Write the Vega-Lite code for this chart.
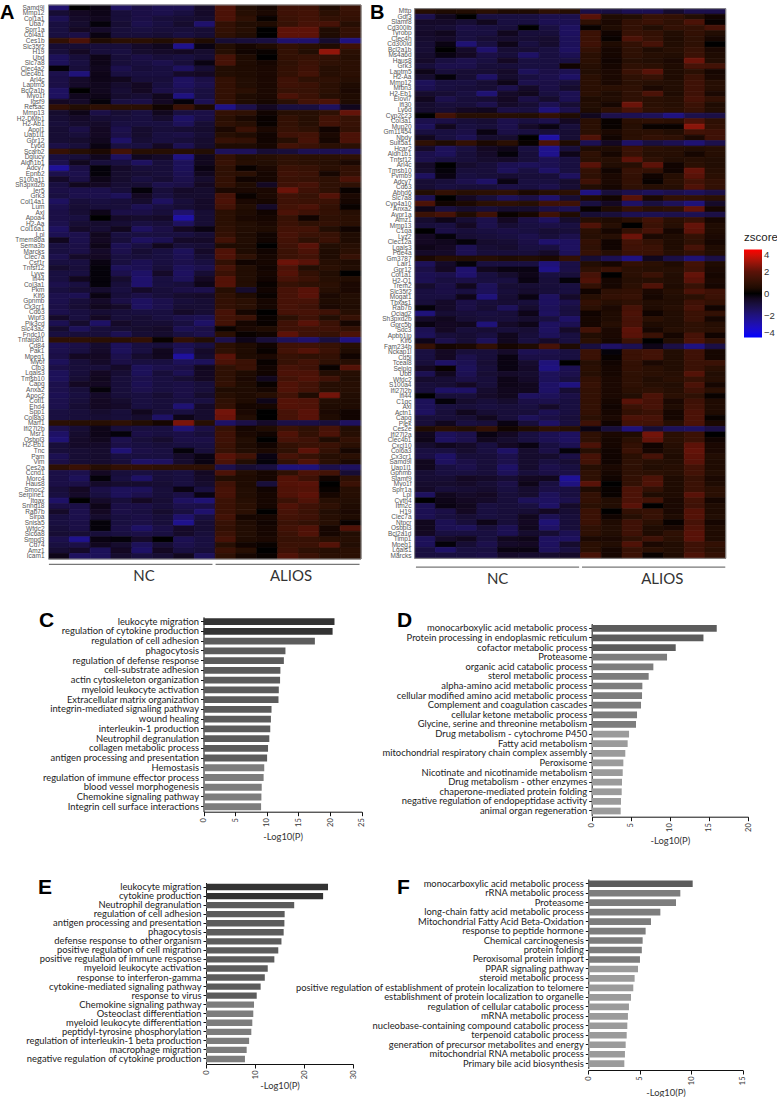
{"$schema":"https://vega.github.io/schema/vega-lite/v6.json","padding":0,"background":"white","bounds":"flush","spacing":0,"columns":2,"config":{"view":{"stroke":null},"font":"Lato"},"concat":[
{"width":370,"height":600,"title":{"text":"A","anchor":"start","frame":"group","offset":0,"baseline":"alphabetic","dx":0,"dy":39,"font":"Liberation Sans","fontSize":20,"fontWeight":"bold","color":"#000"},"resolve":{"scale":{"x":"independent","y":"independent"}},"layer":[
{"data":{"values":[
{"g":"Samd9l","z":[-1.7,0,-0.2,-1.5,-1.1,-1.3,-1.3,-0.6,1.7,0.6,0.3,1.3,1.3,0.5,1.2]},
{"g":"Mmp12","z":[-0.8,-0.5,-0.3,-0.9,-1.1,-1.2,-1,-0.6,1.6,0.7,0.4,1.3,1.4,0.8,1.1]},
{"g":"Col1a1","z":[-1.3,-0.6,-0.4,-0.9,-1.1,-0.9,-0.8,-0.7,1.6,0.9,0.1,1.2,1.4,1,1]},
{"g":"Uba7","z":[-1,-0.7,-0.1,-0.8,-1.2,-1,-0.7,-1.7,1,0.6,0.5,1.1,1.5,1.5,0.7]},
{"g":"Sprr1a","z":[-1,-0.5,-0.6,-0.9,-1,-0.9,-0.9,-0.8,1,0.7,0,2,2,0.5,1]},
{"g":"Col4a1","z":[-1,-1.1,-0.2,-0.9,-0.9,-0.8,-1,-0.8,0.9,0.6,0,2,2,0.5,1]},
{"g":"Ces1b","z":[1,1.6,0.5,0.8,0.8,0.6,0.9,0.5,-0.8,-0.9,-1,-1.7,-1.7,-0.7,-2]},
{"g":"Slc35f2","z":[-0.8,-0.8,-0.9,-0.9,-0.6,-0.4,-2.2,-0.2,0.6,0.3,0.5,1,0.8,0.5,1.3]},
{"g":"H19","z":[-0.9,-0.5,-0.9,-1,-0.7,-0.6,-0.5,-0.7,0.7,0.2,0.1,1,0.6,2.7,0.8]},
{"g":"Ubd","z":[-1.4,-0.9,-0.3,-0.9,-1.1,-0.9,-1,-0.8,1.5,0.5,0,1,1.1,1,0.7]},
{"g":"Slc7a8","z":[-1.4,-1,-0.3,-0.9,-1,-1.2,-0.9,-0.2,1.5,0.5,0.3,0.9,1.2,0.9,0.8]},
{"g":"Clec4a2","z":[-0.1,-0.9,-0.4,-1.2,-0.9,-1,-1.5,-0.8,0.6,0.5,0.4,1,1.3,0.7,0.8]},
{"g":"Clec4b1","z":[-1.2,-1.9,-0.3,-1,-1,-1,-0.6,-0.5,0.6,0.5,0.4,1,1.4,0.7,0.8]},
{"g":"Arl4c","z":[-1.1,-0.6,-0.3,-0.4,-0.9,-0.9,-1.5,-1.1,1,0.6,0.4,1.3,0.9,0.9,0.7]},
{"g":"Laptm5","z":[-1.1,-0.6,-0.4,-0.7,-0.5,-1,-1.5,-1.2,1,0.6,0.4,1.3,1.2,0.8,0.5]},
{"g":"Bcl2a1b","z":[-1.5,0,-0.4,-0.8,-0.5,-1.1,-1.3,-1,1,0.8,0.4,1.1,1.1,0.8,0.4]},
{"g":"Myo1f","z":[-1.5,-0.4,-0.3,-0.7,-0.8,-0.4,-2,-1,1,0.5,0.4,1.6,1.2,0.7,0.5]},
{"g":"Igsf9","z":[-0.5,-0.6,-0.1,-1,-1.1,-0.5,-0.1,-1.3,1,0.5,0.3,0.8,1.4,1.6,0.5]},
{"g":"Refsac","z":[1,0.6,0.9,0.8,0.8,0.2,1.2,0.4,-2.1,-1.2,-0.5,-1,-1,-1.5,-0.4]},
{"g":"Mmp13","z":[-0.7,-0.3,-1.1,-0.8,-1,-0.4,-1,-1.1,1,0.9,0.2,0.7,0.7,0.9,2.1]},
{"g":"H2-DMb1","z":[-0.8,-0.6,-0.8,-0.9,-1,-0.7,-1.6,-1.1,0.8,0.4,0.1,1,0.7,1.4,1.1]},
{"g":"H2-Ab1","z":[-0.9,-0.7,-0.6,-1,-1,-1,-1.4,-0.8,0.9,0.7,0.1,1,0.7,1.4,1.1]},
{"g":"Apol1","z":[-0.8,-1.1,-0.5,-1.2,-0.7,-0.9,-0.8,-0.7,0.4,1.2,0.4,1.1,0.9,0.2,1]},
{"g":"Uap1l1","z":[-0.8,-0.9,-0.5,-1.1,-0.7,-1,-1.1,-0.8,0.7,0.5,0.2,1.3,1.4,0.4,1.6]},
{"g":"Gpr12","z":[-0.8,-0.7,-0.4,-1.6,-0.8,-1,-0.9,-0.7,1.1,1,0.2,0.7,1.5,0.3,1.6]},
{"g":"Ly6d","z":[-1.1,-0.9,-0.2,-1,-1,-0.5,-1.3,-0.7,0.5,0.5,0.3,1.4,1.2,0.8,0.8]},
{"g":"Scarb2","z":[1.1,0.7,0.4,1.4,0.7,0.7,0.7,0.6,-1.4,-1.4,-0.8,-0.9,-1.3,-1.3,-1.4]},
{"g":"Dglucy","z":[-1,-0.9,-0.4,-1.5,-0.4,-0.6,-2,-0.4,1,0.6,0.7,0.9,0.8,0.8,0.9]},
{"g":"Aldh1b1","z":[-1.2,-0.4,-0.9,-1,-1.5,-0.9,-1.4,-0.4,1.1,0.7,0.6,0.9,0.8,0.7,0.4]},
{"g":"Adcy7","z":[-2.4,-1.1,-0.1,-0.6,-0.9,-0.9,-1.4,-0.2,0.9,0.1,0.4,1.2,1.1,0.8,1]},
{"g":"Epnb2","z":[-1.2,-1.2,-0.1,-0.7,-0.8,-0.9,-1.3,-0.4,0.9,0.8,0.3,1.3,1.2,0.3,1]},
{"g":"S100a11","z":[-0.6,-1.1,-0.3,-0.7,-1,-0.8,-1.2,-0.7,1,0.2,0.3,1.2,1.1,0.9,1.6]},
{"g":"Sh3pxd2b","z":[-1,-0.4,-0.5,-0.8,-0.8,-1.2,-1.1,-0.5,1,0.5,-0.5,1.3,1.5,0.9,0.9]},
{"g":"Ier5","z":[-1.1,-1.2,-1.2,-0.9,-0.1,-0.9,-0.6,-0.7,0.4,0.4,0.4,2.2,1.3,0.9,0.1]},
{"g":"Grk3","z":[-1,-1.2,-1.2,-1.4,-0.5,-1,-0.7,-0.7,1.5,0.1,0.4,1.3,1.1,1.8,0.4]},
{"g":"Col14a1","z":[-1.5,-0.9,-1,-0.9,-0.7,-1.5,-0.9,-0.6,1.6,0.4,0.3,1.3,1.2,1.2,0.3]},
{"g":"Lum","z":[-1.2,-0.8,-0.9,-0.9,-1.3,-1,-0.8,-0.6,1.4,0.6,-0.6,1.4,1.6,1,0.1]},
{"g":"Axl","z":[-1.1,-0.8,-0.3,-1.1,-1.1,-0.9,-1.7,-0.8,0.8,0.5,0.2,1.6,1.3,1,0.7]},
{"g":"Apoa4","z":[-1.1,-1,0,-0.6,-0.7,-0.6,-2.6,-0.8,0.8,0.4,0.3,1.1,0.2,0.9,0.8]},
{"g":"H2-Aa","z":[-1.2,-0.8,-0.7,-0.8,-1,-0.9,-1.5,-0.8,0.8,0.6,0.4,1.2,0.9,1,0.8]},
{"g":"Col16a1","z":[-1.5,-0.6,-0.8,-0.4,-1.5,-1.1,-0.5,-0.2,0.9,0.6,0.5,1.4,1.4,0.6,0.2]},
{"g":"Lpl","z":[-1.3,-1.2,-0.4,-1,-1,-1,-1,-0.8,1,0.5,0.2,1.5,1.2,1.1,0.5]},
{"g":"Tmem86a","z":[-0.4,-1.2,-0.5,-0.9,-1.5,-1.3,-0.6,-0.6,1.4,0.6,0.2,1.4,0.9,1.2,0.5]},
{"g":"Sema3b","z":[-1,-1.1,-0.3,-1.3,-1,-0.4,-0.9,-0.8,0.5,0.5,0,1.3,1.9,0.6,0.7]},
{"g":"Marcks","z":[-1,-1.1,-0.6,-1.2,-0.8,-1,-1.4,-0.6,1.7,0.5,0.2,1.2,1.6,0.5,0.8]},
{"g":"Clec7a","z":[-1.2,-0.6,-0.5,-1,-0.9,-1,-1.3,-0.8,1.7,0.9,0.3,1.2,1.4,0.5,1.1]},
{"g":"Csf1r","z":[-1,-1,-0.2,-1,-1.3,-1,-1.2,-1,1,0.2,0.3,2.2,1.9,0.7,0.5]},
{"g":"Tnfsf12","z":[-0.7,-0.9,-0.1,-1.4,-1.3,-0.9,-1.4,-1.2,1.5,0.6,0.2,1.6,0.6,0.8,0.6]},
{"g":"Lyve","z":[-1,-1,-0.1,-1.2,-1.6,-0.6,-1.5,-0.8,1.2,0.6,0.3,1.8,1,0.6,0]},
{"g":"Ifi44","z":[-1,-0.4,-0.1,-0.7,-1.7,-1,-1.4,-0.5,1.8,0.6,0.2,1.5,1.2,0.7,0.6]},
{"g":"Col3a1","z":[-1.2,-1,-0.1,-0.9,-1.7,-1,-0.9,-0.3,1.8,0.6,0.1,1.1,0.9,0.8,0.4]},
{"g":"Pkm","z":[-1,-0.8,-0.7,-1,-0.6,-0.9,-1.1,-1.2,0.7,-0.7,0.2,1.5,1.9,0.7,0.4]},
{"g":"Klf6","z":[-1.2,-1.3,-0.2,-0.9,-1.1,-0.9,-0.7,-0.6,0.9,0.5,0.1,1.5,1.9,0.4,0.6]},
{"g":"Gpnmb","z":[-1.2,-0.9,-0.6,-1.1,-1.5,-1.2,-0.9,-0.8,1,0.8,0.3,1.5,1.5,0.5,0.6]},
{"g":"Cx3cr1","z":[-1.1,-0.8,-0.4,-0.6,-1.5,-1.2,-0.8,-0.8,1,0.8,0.3,1.5,1.3,0.4,0.5]},
{"g":"Cd63","z":[-1.2,-1,-0.8,-0.9,-1,-1,-0.6,-0.8,1.5,0.3,0,1.5,1.5,1.3,0.7]},
{"g":"Wipf3","z":[-0.6,-1,-0.5,-0.9,-0.8,-1,-1.2,-1.3,1.4,1.2,0.1,0.8,1.3,0.6,1.1]},
{"g":"Pik3cd","z":[-1.3,-0.7,-1.6,-0.6,-0.8,-0.8,-1,-1.6,1.4,0.3,0.1,1.3,1.9,1.2,0.3]},
{"g":"Slc43a2","z":[-0.7,-1.4,-0.9,-0.8,-0.7,-0.6,-1.3,-1.1,0.1,0.4,0.5,1.3,1.3,1.3,1]},
{"g":"Fndc10","z":[-1,-0.9,-0.9,-1.3,-0.8,-0.7,-1,-1.2,0.8,0.1,0.2,2,1.3,1.1,1.6]},
{"g":"Tnfaip8l1","z":[0.9,0.9,0.8,0.8,1,0.1,1,0.6,-1.2,-0.3,-0.9,-1.4,-1.7,-1,-2]},
{"g":"Cd84","z":[-1.3,-1.1,-0.7,-1.4,-1,-0.9,-1.3,-1,0.8,0.5,0.2,1.3,1.3,1.1,0.7]},
{"g":"Pak1","z":[-1.2,-1,-0.6,-1.4,-1,-0.4,-1.4,-0.6,0.9,0.5,0.1,1.4,1.8,1.2,0.5]},
{"g":"Mpeg1","z":[-1.1,-0.5,-0.5,-1.2,-0.7,-0.4,-2.5,-0.7,1.9,0.5,0.4,1.1,0.9,1,0.2]},
{"g":"Myof","z":[-1.4,-0.9,-0.6,-1.1,-1,-1,-1.4,-1.4,1.6,1.2,0.1,1.1,1.4,0.9,0.7]},
{"g":"Clb3","z":[-1.1,-0.9,-0.9,-0.6,-1.4,-1.2,-1.1,-0.4,0.9,1.2,0.2,1.5,1.3,0.1,1.8]},
{"g":"Lgals3","z":[-1.4,-0.9,-0.5,-0.8,-1.4,-0.9,-1.3,-0.5,0.9,0.5,0.2,1.6,1.6,0.6,0.7]},
{"g":"Tmsb10","z":[-1.4,-0.8,-0.4,-0.9,-1.2,-1,-0.8,-0.5,0.9,0.4,-0.4,1.4,1.7,1.3,0.6]},
{"g":"Capg","z":[-1.2,-0.5,-0.5,-0.9,-1.3,-1,-1.1,-0.9,1,0.5,0.1,1.7,1.4,0.7,0.7]},
{"g":"Anxa2","z":[-1.2,-0.9,-0.1,-0.9,-1.2,-1,-1.1,-0.9,0.5,0.5,0.3,1.7,1.4,0.7,0.7]},
{"g":"Apoc2","z":[-1.3,-1,-0.6,-0.9,-1,-0.8,-1.1,-0.7,0.7,0.5,0.7,1.4,0.5,2.3,0.6]},
{"g":"Cotl1","z":[-1.2,-0.9,-0.5,-0.7,-1,-0.9,-1,-1,0.9,0.5,-0.3,1.8,1.7,0.6,0.5]},
{"g":"Ehd4","z":[-1.2,-0.8,-0.5,-0.6,-1,-0.9,-1.8,-0.6,1,0.3,0.3,1.8,1.7,0.5,0.5]},
{"g":"Spp1","z":[-1,-0.9,-0.7,-0.9,-0.4,-0.9,-1,-0.7,2.3,0.4,0,1.5,1.9,0.4,0.2]},
{"g":"Col8a3","z":[-1,-0.9,-0.8,-0.9,-0.7,-1.6,-0.3,-0.7,2.2,0.6,0,1.5,1.9,0.5,0.2]},
{"g":"Marf1","z":[0.8,0.7,0.7,0.9,0.6,0.3,2.4,0.7,-1.6,-1.1,-0.6,-1.1,-1.1,-0.9,-1.5]},
{"g":"Ifi27l2b","z":[-1.2,-0.8,-0.3,-0.9,-1,-1,-1.8,-1.1,1.1,0.3,0.5,1.2,0.9,1.5,0.6]},
{"g":"Msr1","z":[-1.6,-0.7,-0.3,-0.1,-1.1,-1,-1.1,-0.9,1.3,0.4,0.2,1.7,1,1.6,0.7]},
{"g":"Osbpl3","z":[-1.8,-0.6,-0.4,-1.2,-0.9,-0.7,-1.1,-1.1,1.3,0.6,0,1.5,1.3,0.5,1]},
{"g":"H2-Eb1","z":[-0.9,-0.6,-0.6,-1.1,-1,-0.9,-1,-1,1.2,0.5,0.2,1,1.2,1.2,0.8]},
{"g":"Tnc","z":[-0.9,-0.8,-0.7,-1.8,-1.1,-1,-0.1,-0.9,1.1,0.6,0.4,0.9,2,1,0.3]},
{"g":"Pam","z":[-1.3,-0.8,-0.7,-1,-1,-1,-0.6,-0.2,1.9,1.4,-0.2,1.5,1.1,0.7,0.8]},
{"g":"Vim","z":[-1.1,-0.8,-0.7,-0.9,-1.6,-1.5,-0.7,-0.2,1.6,0.6,-0.1,1,1.7,0.8,0.4]},
{"g":"Ces2a","z":[0.9,1.2,0.7,1,1,0.9,0.9,0.9,-1.2,-0.8,-1,-1.9,-1.9,-1.2,-1.5]},
{"g":"Ccnd1","z":[-1.1,-1.2,-0.5,-0.9,-1,-0.9,-1,-0.5,1.6,0.6,0.3,0.9,1.6,1.4,-0.8]},
{"g":"Morc4","z":[-1.1,-1.4,-0.1,-1,-1.6,-0.9,-1,-0.6,0.6,0.5,0.3,1.8,1.3,0.2,0.9]},
{"g":"Haus8","z":[-1.1,-1.1,-0.6,-0.7,-0.7,-0.8,-1,-0.7,1.3,0.5,-0.9,1.8,1.9,0,1.2]},
{"g":"Smoc2","z":[-0.9,-0.5,-1.1,-1.4,-1.4,-0.9,-0.2,-1,1.5,0.6,0.2,1.7,1.8,0.1,0.7]},
{"g":"Serpine1","z":[-1,-0.6,-1,-1.4,-1.2,-0.9,-1.1,-0.2,1.5,0.6,0.3,1.7,2,0.3,0.7]},
{"g":"Itgax","z":[-1.6,0,-0.6,-0.9,-0.5,-0.8,-1.5,-1.8,1.2,0.7,0.3,1.2,1.7,0.7,0.6]},
{"g":"Snhg18","z":[-1.1,-1.1,-0.3,-1.1,-1.1,-0.9,-1.2,-1.1,1.2,0.8,0.3,1.7,1.3,0.9,0.5]},
{"g":"Rab7b","z":[-0.6,-1.2,-0.5,-1.1,-1,-0.7,-1,-1.7,1.2,0.8,0,1.5,1.2,0.6,0.4]},
{"g":"Sirpa","z":[-1,-1.2,-0.7,-1,-1.1,-0.9,-1.7,-1,1.4,0.3,0.3,1.4,1.3,0.7,0.5]},
{"g":"Snisa5","z":[-1,-1.1,-0.1,-1,-1.1,-0.9,-2.2,-0.8,1.1,0.5,0.2,1.2,1,0.7,0.1]},
{"g":"Wfdc2","z":[-0.9,-1.1,-0.1,-1.1,-1.6,-1.1,-0.6,-0.8,1,0.6,0.3,1.4,1.7,0.3,1.7]},
{"g":"Slc6a8","z":[-0.8,-0.8,-0.9,-1,-1.1,-1,-0.6,-0.9,1.2,0.6,0.3,1.2,1.7,0.3,0.6]},
{"g":"Smpd3","z":[-1.2,-2.2,-0.2,-0.1,-0.6,0,-1.3,-1,1.5,0.5,0.4,1.1,1.1,0.8,0.7]},
{"g":"Cd74","z":[-1,-1.1,-0.4,-0.7,-1.4,-0.8,-1.2,-1,0.7,0.2,0.1,1.2,1.2,1.8,0.6]},
{"g":"Amz1","z":[-0.8,-0.6,-1.4,-0.5,-1.6,-0.5,-1,-0.9,1.2,0.7,0,1.3,0.9,0.7,0.8]},
{"g":"Icam1","z":[-0.3,-1.5,-1.4,-0.7,-1,-0.8,-0.4,-1.4,0.9,0.3,0.1,1.7,1.2,0.8,0.8]}
]},"transform":[{"flatten":["z"],"as":["v"]},{"window":[{"op":"row_number","as":"col"}],"groupby":["g"]}],"mark":{"type":"rect","strokeWidth":0.7},"encoding":{"x":{"field":"col","type":"ordinal","axis":null,"scale":{"range":[48.5,361],"paddingInner":0,"paddingOuter":0}},"y":{"field":"g","type":"nominal","sort":null,"title":null,"scale":{"range":[5,559],"paddingInner":0,"paddingOuter":0},"axis":{"domain":false,"ticks":false,"labelFont":"Liberation Sans","labelFontSize":6.5,"labelColor":"#555","labelPadding":-44,"labelOverlap":false,"labelBound":false,"labelLimit":100}},"color":{"field":"v","type":"quantitative","scale":{"domain":[-4,-2,0,2,4],"range":["#0000ff","#1f1280","#000000","#5c1208","#ff0000"],"interpolate":"lab"},"legend":null},"stroke":{"field":"v","type":"quantitative","scale":{"domain":[-4,-2,0,2,4],"range":["#0000ff","#1f1280","#000000","#5c1208","#ff0000"],"interpolate":"lab"},"legend":null}}},
{"data":{"values":[{"start":0,"end":15,"top":0,"bottom":1}]},"mark":{"type":"rect","fill":null,"stroke":"#8a8a8a","strokeWidth":1},"encoding":{"x":{"field":"start","type":"quantitative","axis":null,"scale":{"domain":[0,15],"range":[48.5,361],"nice":false,"zero":false}},"x2":{"field":"end"},"y":{"field":"top","type":"quantitative","axis":null,"scale":{"domain":[0,1],"range":[5,559],"nice":false,"zero":false}},"y2":{"field":"bottom"}}},
{"data":{"values":[{"group":"NC","start":0.02,"end":7.87,"line":1.0096},{"group":"ALIOS","start":8.02,"end":14.93,"line":1.0096}]},"mark":{"type":"rule","stroke":"#777","strokeWidth":1.3},"encoding":{"x":{"field":"start","type":"quantitative","axis":null,"scale":{"domain":[0,15],"range":[48.5,361],"nice":false,"zero":false}},"x2":{"field":"end"},"y":{"field":"line","type":"quantitative","axis":null,"scale":{"domain":[0,1],"range":[5,559],"nice":false,"zero":false}}}},
{"data":{"values":[{"group":"NC","mid":4.58,"pos":1.0307},{"group":"ALIOS","mid":11.64,"pos":1.0307}]},"mark":{"type":"text","font":"Lato","fontSize":15,"color":"#333","align":"center","baseline":"middle"},"encoding":{"text":{"field":"group"},"x":{"field":"mid","type":"quantitative","axis":null,"scale":{"domain":[0,15],"range":[48.5,361],"nice":false,"zero":false}},"y":{"field":"pos","type":"quantitative","axis":null,"scale":{"domain":[0,1],"range":[5,559],"nice":false,"zero":false}}}}
]},
{"width":407,"height":600,"title":{"text":"B","anchor":"start","frame":"group","offset":0,"baseline":"alphabetic","dx":0,"dy":39,"font":"Liberation Sans","fontSize":20,"fontWeight":"bold","color":"#000"},"resolve":{"scale":{"x":"independent","y":"independent"}},"layer":[
{"data":{"values":[
{"g":"Mttp","z":[0.7,0.5,0.6,0.8,0.5,0.5,0.9,0.7,-1.1,-1,-1.3,-1.3,-0.7,-1.2,-1.2]},
{"g":"Gdf3","z":[-1.2,-0.4,0,-1,-1,-1,-1.2,-1.2,1.9,0.5,0.6,1.1,1,0.6,0.2]},
{"g":"Slamf8","z":[-0.6,-0.6,-0.8,-0.4,-1,-1,-1.3,-1.3,0.9,0.4,1,1.2,0.9,1.6,0.1]},
{"g":"Cd300lb","z":[-0.7,-0.8,-1.1,-1,-0.9,0,-1,-1.5,0.1,0.5,1,0.6,1,1,1.5]},
{"g":"Tyrobp","z":[-0.6,-0.4,-1,-1,-0.4,-0.9,-0.9,-1.5,1.2,0.2,1.1,1,0.6,1,0.6]},
{"g":"Clec4n","z":[-0.7,-0.6,-1,-0.8,-0.7,-0.8,-0.7,-1.4,1.2,0.1,1.6,1.1,0.5,0.9,0.3]},
{"g":"Cd300ld","z":[-0.8,-0.2,-1.8,-1,-0.3,-1,-0.7,-1.4,1.3,0.5,1,1.5,0.6,0.9,0]},
{"g":"Bcl2a1b","z":[-0.8,0,-0.6,-1.7,-0.8,-0.8,-1,-1.5,1,0.3,0.9,0.5,0.7,1.1,0.4]},
{"g":"Ms4a6d","z":[-0.7,-0.2,-0.5,-1.1,-0.9,-1.6,-1,-1.3,0.8,0.3,0.9,0.7,0.6,1.2,0.5]},
{"g":"Haus8","z":[-0.6,-1,-1.2,-1,-0.5,-1,-1,-1,0.8,0.2,0.7,0.6,0.4,2.2,0.6]},
{"g":"Grk3","z":[-0.9,-1.2,-1.2,-0.9,-0.9,-1,-1,0.2,0.7,0.3,0.9,0.8,0.5,1.5,1.4]},
{"g":"Laptm5","z":[-0.3,-0.9,-0.8,-0.8,-0.6,-1.4,-1.1,-1.3,0.6,0.4,1.2,1.9,0.5,0.8,0.3]},
{"g":"H2-Aa","z":[-0.7,-0.1,-0.8,-1.6,-0.7,-1,-1.2,-1.6,0.8,0.4,0.9,1.1,0.5,1.2,0.4]},
{"g":"Mmp12","z":[-1.4,-1,-1,-0.8,-0.3,-1.2,-1.1,-0.9,0.8,0.4,0.8,0.7,0.6,1.3,0.7]},
{"g":"Mfbn3","z":[-1.3,-1,-0.9,-0.8,-1.2,-0.6,-1.1,-0.7,0.8,0.8,0.9,0.4,0.6,1.3,0.7]},
{"g":"H2-Eb1","z":[-0.7,-0.8,-1,-1.8,-0.6,-0.4,-1,-1.3,0.8,0.5,0.9,1.6,0.5,1.3,0.4]},
{"g":"Elovl7","z":[-0.4,-1.2,-0.9,-0.8,-0.5,-1.1,-0.7,-1.3,0.5,0.6,0.9,0.8,0.7,1.5,1]},
{"g":"Ifi30","z":[-0.7,-0.9,-0.9,-1.2,-0.6,-0.8,-1.3,-0.8,0.6,0.3,2.2,0.8,0.7,1.2,0.5]},
{"g":"Ly6d","z":[-0.7,-0.8,-0.5,-0.4,-1.1,-1,-1.9,-1.2,0.5,0.9,1.5,0.9,0.8,1.1,0.6]},
{"g":"Cyp2c23","z":[0,1.4,0.7,0.7,0.7,0.6,1,0.5,-0.4,-1.2,-1.3,-1.4,-2,-1.2,-1.1]},
{"g":"Col3a1","z":[-1.2,-1.1,-0.9,-0.8,-1.2,-1,-1.2,-0.5,0.8,0.1,0.8,0.9,0.8,1.6,0.9]},
{"g":"Mup20","z":[-1.4,-0.4,-1,-0.9,-1.2,-0.6,-0.2,-0.9,0.8,0.1,0.7,0.1,0.1,2.6,1]},
{"g":"Gm11454","z":[-1,-1,-1.1,-0.2,-1.1,-1,-0.9,-0.8,0.8,0.4,0.8,0.8,0.6,1.4,1.3]},
{"g":"Nbdy","z":[-0.4,-1,-1.3,-0.7,-0.7,0,-2.6,-0.8,1.7,0.2,0.8,1,0.9,0.4,1.3]},
{"g":"Sult5a1","z":[0.9,0.5,1,0.4,0.8,0.1,1.6,0.5,-1.3,-0.5,-1.6,-1,-1.3,-1.8,-1.2]},
{"g":"Hcar2","z":[-0.6,-1.4,-1,-0.5,-0.3,-1,-2.2,-0.9,0.5,0.5,1.2,0.8,0.7,0.6,0.7]},
{"g":"Aldh1b1","z":[-1.2,-1.4,-0.9,-0.6,-0.1,-0.9,-2.2,-0.3,0.9,0.3,1.1,0.7,0.7,0.3,0.7]},
{"g":"Tnfsf12","z":[-1.2,-1,-0.9,-0.7,-0.6,-0.9,-1.3,-1,0.8,0.7,2,0.9,0.6,0.7,0.6]},
{"g":"Arl4c","z":[-0.6,0,-0.7,-0.9,-1.3,-1.4,-1.3,-1,1.9,0.6,0.7,2,0.2,0.8,0.6]},
{"g":"Tmsb10","z":[-0.7,-0.1,-0.9,-0.9,-1.4,-1,-1.6,-1,1,0.2,1.1,1,0.2,2.1,0.7]},
{"g":"Pvmb9","z":[-1.5,-0.2,-1,-0.9,-0.8,-0.9,-0.9,-1.5,0.9,0.4,1,0.2,0.7,1.9,0.8]},
{"g":"Adcy7","z":[-0.8,-0.9,-1.2,-1.6,-0.2,-1,-1,-0.7,1.3,0.4,1,0.1,0.8,1.4,1]},
{"g":"Cd63","z":[-0.8,-1,-0.9,-0.9,-1.1,-1,-1.2,-0.8,0.6,0.3,0.9,0.7,0.7,1.7,1]},
{"g":"Abhd6","z":[0.6,1,0.7,0.8,0.9,0.4,0.7,0.8,-2,-0.9,-1.2,-1.4,-1.2,-1.4,-1.1]},
{"g":"Slc7a8","z":[-1.3,0,-0.5,-0.9,-1.4,-1.1,-1.7,-0.8,0.5,0.2,1.9,0.4,1,1,0.8]},
{"g":"Cyp4a10","z":[1.6,0.2,0.4,0.8,0.9,0.7,1.3,1.3,-1,-0.5,-1.6,-1,-1.4,-1.9,-0.6]},
{"g":"Anxa2","z":[-0.3,-1,-0.7,-0.9,-0.7,-0.7,-1.1,-1.3,0.1,0.5,1.1,0.8,0.9,2.1,0.3]},
{"g":"Avpr1a","z":[1.2,1.5,0.5,1.3,0.1,0.3,1.3,0.5,-0.8,-0.9,-1.3,-1.3,-1.2,-1.3,-1.1]},
{"g":"Amz1","z":[-0.7,-0.3,-0.8,-1.2,-0.5,-1.1,-1.5,-0.7,0.7,0.5,0.8,1.4,0.8,1.1,0.3]},
{"g":"Mmp13","z":[-0.9,-1,-0.5,-1.2,-0.8,-1,-1.1,-1,1.7,0.7,0,1.2,0.7,2.1,0.5]},
{"g":"C1qa","z":[0,-1.1,-0.9,-1,-1.1,-1,-0.8,-0.9,0.8,0.3,1,1.5,0.3,2,0.5]},
{"g":"Lyz2","z":[-0.5,-0.1,-0.8,-0.9,-1,-1.2,-0.9,-1.2,0.7,0.7,2.2,0.4,0.5,1,0.4]},
{"g":"Clec12a","z":[-0.5,-0.4,-0.1,-0.7,-0.8,-1.1,-1.7,-1.5,1,0.2,1.4,1,0.5,0.9,0.3]},
{"g":"Lgals3","z":[-0.3,-0.5,-1.3,-0.8,-0.7,-1,-1,-1.5,0.9,0.2,1.3,1.2,0.5,1.5,0.5]},
{"g":"Pde4a","z":[-0.6,-0.6,-1.3,-0.9,-0.9,-0.9,-0.6,-1.4,1.1,0.7,1.2,1.2,0.7,1,0.6]},
{"g":"Gm3787","z":[0.4,0.7,0.6,0.7,0.5,0.6,0.4,1,-0.8,-1.3,-2,-0.4,-1.1,-1.8,-1.1]},
{"g":"Lair1","z":[-1.4,-0.6,-0.1,-1,-1,-1,-1.9,-1.1,0.6,0.3,1,0.8,0.5,1.4,0.5]},
{"g":"Gpr12","z":[-1.1,-0.5,-1.7,-0.4,-0.2,-0.2,-2.1,-1.1,0.9,1.2,0.8,0.7,0.7,1.3,0.4]},
{"g":"Col1a1","z":[-1.3,-1.2,-1.7,-1,-0.7,-0.3,-1,-0.9,1.5,0,0.8,1.2,0.6,2.1,0.3]},
{"g":"H2-Q1","z":[-1.3,-1,-1.1,-1,-1,-0.2,-0.9,-0.1,1.7,0.3,0.7,0.7,0.6,1.9,0.4]},
{"g":"Trem2","z":[-0.7,-1.1,-0.4,-1.4,-0.8,-0.8,-0.9,-1,1,0.3,0.8,1.7,0.5,1.1,0.3]},
{"g":"Slc35f2","z":[-1,-1.1,-1,-1.4,-0.9,-0.7,-0.9,-1,0.2,0.9,1,0.4,0.7,1.6,1.3]},
{"g":"Mogat1","z":[-1,-1,-0.3,-1.9,-0.8,-0.2,-1.5,-0.6,0.7,1,1.1,0.3,0.6,0.8,1.2]},
{"g":"Tbxas1","z":[-0.9,-0.6,-1.1,-0.9,-0.8,-0.9,-1.5,-1.2,1,0.7,0.9,0.6,0.6,1.3,1]},
{"g":"Rab7b","z":[-0.1,-0.6,-1.1,-0.8,-1.4,-0.7,-1.4,-1,0.8,0.4,1.5,0.5,0.7,1.5,0.2]},
{"g":"Ociad2","z":[-1.9,-0.8,-0.9,-1,-0.9,-0.3,-1.5,-1,0.2,0.5,1.6,0.2,0.6,1.2,1]},
{"g":"Sh3pxd2b","z":[-0.6,-0.4,-0.8,-0.9,-0.9,-0.7,-1,-1.6,0.3,0.5,1.5,0.8,0.6,1.2,0.3]},
{"g":"Gprc5b","z":[-0.2,-0.5,-0.4,-1.9,-0.6,-0.3,-1.5,-1.3,0.3,0.7,1.5,0.5,0.6,0.9,0.7]},
{"g":"Sdc3","z":[-1.3,-0.5,-0.9,-0.8,-0.9,-0.8,-1.5,-0.6,1.4,0.4,2,0.3,0.7,0.9,0.8]},
{"g":"Apbb1ip","z":[-1.4,-0.9,-0.8,-1,-0.4,-0.9,-1.4,-1,0.6,0.4,1.9,1.2,0.3,1.5,0.2]},
{"g":"Klf6","z":[-0.3,-1.2,-0.8,-1.4,-0.4,-1,-0.6,-1,0.8,0.3,1.2,0,0.6,1.6,1]},
{"g":"Fam234b","z":[1.1,0.3,0.4,1,0.3,0.5,1.5,0.5,-1,-1.6,-1.3,-0.3,-1.1,-2,-1.1]},
{"g":"Nckap1l","z":[-1,-0.5,-0.9,-0.9,-0.6,-1.3,-1.2,-1,1.2,-0.1,1.2,1.4,0.6,1.3,0.3]},
{"g":"Cd5l","z":[-1,-0.5,-1.2,-0.9,-0.2,-1.1,-1.1,-1,1.2,0.1,1.2,1.4,0.6,1.3,0.3]},
{"g":"Tceal8","z":[-0.9,-1.6,-1.3,-0.8,-0.2,-0.7,-1.9,0,0.7,0.2,1,0.4,0.6,1.2,1.2]},
{"g":"Selplg","z":[-0.5,0.1,-1.4,-0.9,-0.2,-0.6,-2,-1.3,0.8,0.3,1,0.8,0.6,1.2,0.8]},
{"g":"Ubb","z":[-1.3,-0.4,-1.3,-0.8,-0.6,-0.7,-1.4,-1.2,0.7,0.3,0.9,0.8,0.7,1.8,0.6]},
{"g":"Wfdc2","z":[-0.7,-0.8,-1.1,-0.9,-0.3,-0.6,-1.4,-1,1,0.4,0.9,0.6,0.8,1.1,0.7]},
{"g":"S100a4","z":[-0.9,-0.8,-0.5,-0.9,-0.3,-0.4,-1.6,-2,1.1,0.4,0.9,0.7,0.6,1.6,0.3]},
{"g":"Ifi27l2b","z":[-0.9,-1.6,-1.6,-0.7,-0.4,-0.4,-1.6,-0.8,1,0.4,0.8,0.9,0.7,1.3,0.8]},
{"g":"Ifi44","z":[0,-0.9,-0.9,-0.6,-0.4,-1.5,-1.4,-1.1,1,0.4,0.6,1.6,0.8,0.9,0.1]},
{"g":"C1qc","z":[-1.4,-0.1,-0.7,-0.9,-0.7,-1.1,-1.2,-1,1,0.3,1.9,1.5,0.4,1.3,0.5]},
{"g":"Axl","z":[-1.4,-1,-0.9,-1,-0.9,-1,-0.6,-1,1,0.2,1.2,1.5,0.5,1.4,0.5]},
{"g":"Actn1","z":[-1.5,-0.9,-0.4,-0.8,-0.9,-0.9,-1.3,-1,1,0.3,1,1.2,0.3,1.6,0.5]},
{"g":"Capg","z":[-0.9,-0.9,-0.8,-0.4,-0.9,-1.4,-1.1,-0.9,0.8,0.4,1.6,1.5,0.3,1.6,0.1]},
{"g":"Plek","z":[-0.9,-0.4,-1,-0.9,-0.2,-0.9,-1.6,-1,1.3,0.2,1.4,1.4,0.7,1.6,0.4]},
{"g":"Ces2e","z":[0.5,0.8,0.6,1,0.2,0.5,0.9,0.7,-0.2,-0.9,-1.9,-0.8,-1.4,-1.5,-1.1]},
{"g":"Ifi27l2a","z":[-0.4,-1.4,-1.2,-0.2,-0.5,-1,-1.3,-1.5,0.9,0.4,0.5,2.3,0.8,1.2,0]},
{"g":"Clec4b1","z":[-0.3,-1.5,-1.2,-0.4,-0.7,-1,-1.3,-1.5,0.9,0.3,0.8,2.1,0.8,1.2,0.2]},
{"g":"Cxcl10","z":[-0.7,-0.4,-0.6,-1,-0.5,-0.2,-1,-1.3,1.6,0.3,1,0.2,0.7,2,0.4]},
{"g":"Col6a3","z":[-1,-1,-0.7,-1,-1.6,-0.7,-1.1,-0.1,0.7,0.2,1.2,0.3,0.6,2.1,0.4]},
{"g":"Cx3cr1","z":[-1.1,-1.6,-0.9,-0.9,-1.2,-0.7,-0.7,-1.1,1.5,0.2,0.8,1.5,0.5,2,0.6]},
{"g":"Samd9l","z":[-0.4,-1.5,-1.1,-0.9,-1.2,-0.7,-1,-0.8,1.4,0.2,0.9,0.7,0.6,1.9,0.5]},
{"g":"Uap1l1","z":[-0.4,-1,-1.2,-0.9,-1.6,-0.7,-1.2,-1,0.7,0.4,0.9,0.6,0.7,1.4,0.5]},
{"g":"Gpnmb","z":[-0.8,-1,-1,-0.9,-1.4,-0.9,-1.1,-1.1,0.9,0.3,0.9,0.8,0.7,1.4,0.6]},
{"g":"Slamf9","z":[-0.8,-0.8,-0.5,-0.6,-0.8,-0.5,-0.4,-2.4,0.9,0.2,1,1.6,0.5,1.1,0.4]},
{"g":"Myo1f","z":[-0.7,-0.7,-0.6,-0.8,-1.1,-0.3,-1,-2,1.9,0,1,1.7,0.5,1.2,0.5]},
{"g":"Sprr1a","z":[-0.6,-0.9,-0.8,-0.7,-1,-0.7,-1.1,-1,0.5,0.1,1.6,1,0.5,1.2,0.8]},
{"g":"Lpl","z":[-1.5,-0.4,-0.6,-0.5,-0.9,-0.7,-1.4,-1,1,0.1,1.6,0.5,0.5,1.9,0.8]},
{"g":"Cyth4","z":[0,-0.3,-0.5,-0.6,-0.9,-1.4,-1.5,-1.2,1,0.6,1.6,1.4,0.4,1.4,0.3]},
{"g":"Itm2c","z":[-1.3,-0.2,-0.4,-1,-0.9,-1,-1.6,-0.6,0.8,0.6,1.9,0,0.4,1.3,0.5]},
{"g":"H19","z":[-1.3,-1.1,-0.5,-1,-0.9,-0.8,-0.5,-0.8,1.2,0,1,1.1,0.4,1.8,0.5]},
{"g":"Clec7a","z":[-1.3,-1,-0.8,-1,-0.9,-0.4,-1.3,-0.9,1.2,0.2,0.7,1.1,0.5,1.8,0.6]},
{"g":"Ntpcr","z":[-0.4,-1.3,-0.9,-0.3,-0.9,-0.5,-1.8,-0.9,1.2,0.5,1.3,0.8,0.1,1.5,0.3]},
{"g":"Osbpl3","z":[-0.4,-1.3,-1.4,-0.9,-1.3,-0.4,-1.6,-0.9,0.9,0.6,1.3,0.5,0.4,1.7,0.5]},
{"g":"Bcl2a1d","z":[-0.5,-1,-1,-1,-1.3,-0.7,-0.8,-1.3,0.9,0.6,1.3,0.5,0.9,1.9,0.5]},
{"g":"Timp1","z":[-1.4,-0.6,-0.4,-1,-0.4,-0.3,-1.5,-1.5,0.4,0.4,0.9,1.3,0.8,1.9,0.5]},
{"g":"Mpeg1","z":[-1.4,-0.1,-0.8,-1.2,-0.6,-0.5,-1.5,-0.7,0.8,0.6,1.7,0.4,0.6,1.3,1]},
{"g":"Lgals1","z":[-1,-1.6,-1,-1,-0.2,-0.2,-1.4,-1,0.8,0.3,1.1,0.8,0.6,1.3,0.8]},
{"g":"Marcks","z":[-1,-1,-1,-1.1,-0.6,-0.7,-0.7,-0.6,1.5,0.3,1.2,0.1,0.5,1.6,1]}
]},"transform":[{"flatten":["z"],"as":["v"]},{"window":[{"op":"row_number","as":"col"}],"groupby":["g"]}],"mark":{"type":"rect","strokeWidth":0.7},"encoding":{"x":{"field":"col","type":"ordinal","axis":null,"scale":{"range":[44.7,355.7],"paddingInner":0,"paddingOuter":0}},"y":{"field":"g","type":"nominal","sort":null,"title":null,"scale":{"range":[8.7,558.3],"paddingInner":0,"paddingOuter":0},"axis":{"domain":false,"ticks":false,"labelFont":"Liberation Sans","labelFontSize":6.5,"labelColor":"#555","labelPadding":-41,"labelOverlap":false,"labelBound":false,"labelLimit":100}},"stroke":{"field":"v","type":"quantitative","scale":{"domain":[-4,-2,0,2,4],"range":["#0000ff","#1f1280","#000000","#5c1208","#ff0000"],"interpolate":"lab"},"legend":null},"color":{"field":"v","type":"quantitative","scale":{"domain":[-4,-2,0,2,4],"range":["#0000ff","#1f1280","#000000","#5c1208","#ff0000"],"interpolate":"lab"},"legend":{"orient":"none","legendX":374,"legendY":232,"title":"zscore","titleFont":"Liberation Sans","titleFontSize":11.5,"titleFontWeight":"normal","titleColor":"#222","titlePadding":6,"labelFont":"Liberation Sans","labelFontSize":9.5,"labelColor":"#333","gradientLength":88,"gradientThickness":18,"values":[-4,-2,0,2,4],"tickCount":5}}}},
{"data":{"values":[{"start":0,"end":15,"top":0,"bottom":1}]},"mark":{"type":"rect","fill":null,"stroke":"#8a8a8a","strokeWidth":1},"encoding":{"x":{"field":"start","type":"quantitative","axis":null,"scale":{"domain":[0,15],"range":[44.7,355.7],"nice":false,"zero":false}},"x2":{"field":"end"},"y":{"field":"top","type":"quantitative","axis":null,"scale":{"domain":[0,1],"range":[8.7,558.3],"nice":false,"zero":false}},"y2":{"field":"bottom"}}},
{"data":{"values":[{"group":"NC","start":0.06,"end":7.93,"line":1.016},{"group":"ALIOS","start":8.07,"end":14.98,"line":1.016}]},"mark":{"type":"rule","stroke":"#777","strokeWidth":1.3},"encoding":{"x":{"field":"start","type":"quantitative","axis":null,"scale":{"domain":[0,15],"range":[44.7,355.7],"nice":false,"zero":false}},"x2":{"field":"end"},"y":{"field":"line","type":"quantitative","axis":null,"scale":{"domain":[0,1],"range":[8.7,558.3],"nice":false,"zero":false}}}},
{"data":{"values":[{"group":"NC","mid":4,"pos":1.0376},{"group":"ALIOS","mid":11.94,"pos":1.0376}]},"mark":{"type":"text","font":"Lato","fontSize":15,"color":"#333","align":"center","baseline":"middle"},"encoding":{"text":{"field":"group"},"x":{"field":"mid","type":"quantitative","axis":null,"scale":{"domain":[0,15],"range":[44.7,355.7],"nice":false,"zero":false}},"y":{"field":"pos","type":"quantitative","axis":null,"scale":{"domain":[0,1],"range":[8.7,558.3],"nice":false,"zero":false}}}}
]},
{"width":370,"height":260,"title":{"text":"C","anchor":"start","frame":"group","offset":0,"baseline":"alphabetic","dx":39,"dy":48,"font":"Liberation Sans","fontSize":21,"fontWeight":"bold","color":"#000"},"data":{"values":[
{"term":"leukocyte migration","p":20.7},{"term":"regulation of cytokine production","p":20.4},{"term":"regulation of cell adhesion","p":17.6},{"term":"phagocytosis","p":12.95},{"term":"regulation of defense response","p":12.7},{"term":"cell-substrate adhesion","p":12.15},{"term":"actin cytoskeleton organization","p":12.1},{"term":"myeloid leukocyte activation","p":11.9},{"term":"Extracellular matrix organization","p":11.85},{"term":"integrin-mediated signaling pathway","p":10.75},{"term":"wound healing","p":10.65},{"term":"interleukin-1 production","p":10.55},{"term":"Neutrophil degranulation","p":10.4},{"term":"collagen metabolic process","p":10.2},{"term":"antigen processing and presentation","p":10.05},{"term":"Hemostasis","p":9.6},{"term":"regulation of immune effector process","p":9.5},{"term":"blood vessel morphogenesis","p":9.2},{"term":"Chemokine signaling pathway","p":9.15},{"term":"Integrin cell surface interactions","p":9.1}
]},"mark":"bar","encoding":{"x":{"field":"p","type":"quantitative","scale":{"domain":[0,25],"range":[203.5,361.7],"nice":false},"axis":{"title":"-Log10(P)","titleFont":"Lato","titleFontSize":9.4,"titleFontWeight":"normal","titleColor":"#333","titleY":24.5,"titleBaseline":"middle","offset":-48.3,"values":[0,5,10,15,20,25],"grid":false,"labelAngle":270,"labelFontSize":7.5,"labelColor":"#333","domainColor":"#111","domainWidth":1,"tickColor":"#111","tickSize":4}},"y":{"field":"term","type":"nominal","sort":null,"title":null,"scale":{"range":[16.8,211.6],"paddingInner":0.3,"paddingOuter":0.15},"axis":{"offset":-203.5,"labelFont":"Lato","labelFontSize":9.4,"labelColor":"#222","labelLimit":500,"labelOverlap":false,"labelBound":false,"labelPadding":2,"domainColor":"#111","domainWidth":1,"tickColor":"#111","tickSize":3}},"color":{"field":"p","type":"quantitative","scale":{"type":"threshold","domain":[5,10,20],"range":["#9b9b9b","#7d7d7d","#5c5c5c","#333333"]},"legend":null}}},
{"width":407,"height":260,"title":{"text":"D","anchor":"start","frame":"group","offset":0,"baseline":"alphabetic","dx":27,"dy":48,"font":"Liberation Sans","fontSize":21,"fontWeight":"bold","color":"#000"},"data":{"values":[
{"term":"monocarboxylic acid metabolic process","p":16},{"term":"Protein processing in endoplasmic reticulum","p":14.3},{"term":"cofactor metabolic process","p":10.75},{"term":"Proteasome","p":9.64},{"term":"organic acid catabolic process","p":7.89},{"term":"sterol metabolic process","p":7.29},{"term":"alpha-amino acid metabolic process","p":6.48},{"term":"cellular modified amino acid metabolic process","p":6.44},{"term":"Complement and coagulation cascades","p":6.31},{"term":"cellular ketone metabolic process","p":5.8},{"term":"Glycine, serine and threonine metabolism","p":5.67},{"term":"Drug metabolism - cytochrome P450","p":4.78},{"term":"Fatty acid metabolism","p":4.6},{"term":"mitochondrial respiratory chain complex assembly","p":4.3},{"term":"Peroxisome","p":4.05},{"term":"Nicotinate and nicotinamide metabolism","p":3.97},{"term":"Drug metabolism - other enzymes","p":3.88},{"term":"chaperone-mediated protein folding","p":3.84},{"term":"negative regulation of endopeptidase activity","p":3.75},{"term":"animal organ regeneration","p":3.71}
]},"mark":"bar","encoding":{"x":{"field":"p","type":"quantitative","scale":{"domain":[0,20],"range":[221.7,378],"nice":false},"axis":{"title":"-Log10(P)","titleFont":"Lato","titleFontSize":9.4,"titleFontWeight":"normal","titleColor":"#333","titleY":23.5,"titleBaseline":"middle","offset":-43.3,"values":[0,5,10,15,20],"grid":false,"labelAngle":270,"labelFontSize":7.5,"labelColor":"#333","domainColor":"#111","domainWidth":1,"tickColor":"#111","tickSize":4}},"y":{"field":"term","type":"nominal","sort":null,"title":null,"scale":{"range":[23.5,215.8],"paddingInner":0.3,"paddingOuter":0.15},"axis":{"offset":-221.7,"labelFont":"Lato","labelFontSize":9.4,"labelColor":"#222","labelLimit":500,"labelOverlap":false,"labelBound":false,"labelPadding":2,"domainColor":"#111","domainWidth":1,"tickColor":"#111","tickSize":3}},"color":{"field":"p","type":"quantitative","scale":{"type":"threshold","domain":[5,10,20],"range":["#9b9b9b","#7d7d7d","#5c5c5c","#333333"]},"legend":null}}},
{"width":370,"height":237,"title":{"text":"E","anchor":"start","frame":"group","offset":0,"baseline":"alphabetic","dx":38,"dy":55,"font":"Liberation Sans","fontSize":21,"fontWeight":"bold","color":"#000"},"data":{"values":[
{"term":"leukocyte migration","p":24.9},{"term":"cytokine production","p":23.9},{"term":"Neutrophil degranulation","p":18},{"term":"regulation of cell adhesion","p":16.05},{"term":"antigen processing and presentation","p":16},{"term":"phagocytosis","p":15.85},{"term":"defense response to other organism","p":15.4},{"term":"positive regulation of cell migration","p":14.75},{"term":"positive regulation of immune response","p":13.95},{"term":"myeloid leukocyte activation","p":12.6},{"term":"response to interferon-gamma","p":12},{"term":"cytokine-mediated signaling pathway","p":11.15},{"term":"response to virus","p":10.35},{"term":"Chemokine signaling pathway","p":9.8},{"term":"Osteoclast differentiation","p":9.65},{"term":"myeloid leukocyte differentiation","p":9.45},{"term":"peptidyl-tyrosine phosphorylation","p":9.25},{"term":"regulation of interleukin-1 beta production","p":8.8},{"term":"macrophage migration","p":8.3},{"term":"negative regulation of cytokine production","p":7.95}
]},"mark":"bar","encoding":{"x":{"field":"p","type":"quantitative","scale":{"domain":[0,30],"range":[206,353],"nice":false},"axis":{"title":"-Log10(P)","titleFont":"Lato","titleFontSize":9.4,"titleFontWeight":"normal","titleColor":"#333","titleY":21.7,"titleBaseline":"middle","offset":-33,"values":[0,10,20,30],"grid":false,"labelAngle":270,"labelFontSize":7.5,"labelColor":"#333","domainColor":"#111","domainWidth":1,"tickColor":"#111","tickSize":4}},"y":{"field":"term","type":"nominal","sort":null,"title":null,"scale":{"range":[22.5,203.5],"paddingInner":0.3,"paddingOuter":0.15},"axis":{"offset":-206,"labelFont":"Lato","labelFontSize":9.4,"labelColor":"#222","labelLimit":500,"labelOverlap":false,"labelBound":false,"labelPadding":2,"domainColor":"#111","domainWidth":1,"tickColor":"#111","tickSize":3}},"color":{"field":"p","type":"quantitative","scale":{"type":"threshold","domain":[5,10,20],"range":["#9b9b9b","#7d7d7d","#5c5c5c","#333333"]},"legend":null}}},
{"width":407,"height":237,"title":{"text":"F","anchor":"start","frame":"group","offset":0,"baseline":"alphabetic","dx":27,"dy":55,"font":"Liberation Sans","fontSize":21,"fontWeight":"bold","color":"#000"},"data":{"values":[
{"term":"monocarboxylic acid metabolic process","p":10.14},{"term":"rRNA metabolic process","p":8.94},{"term":"Proteasome","p":8.52},{"term":"long-chain fatty acid metabolic process","p":7},{"term":"Mitochondrial Fatty Acid Beta-Oxidation","p":6.09},{"term":"response to peptide hormone","p":5.57},{"term":"Chemical carcinogenesis","p":5.28},{"term":"protein folding","p":5.2},{"term":"Peroxisomal protein import","p":5.02},{"term":"PPAR signaling pathway","p":4.83},{"term":"steroid metabolic process","p":4.5},{"term":"positive regulation of establishment of protein localization to telomere","p":4.37},{"term":"establishment of protein localization to organelle","p":4.15},{"term":"regulation of cellular catabolic process","p":3.95},{"term":"mRNA metabolic process","p":3.85},{"term":"nucleobase-containing compound catabolic process","p":3.79},{"term":"terpenoid catabolic process","p":3.73},{"term":"generation of precursor metabolites and energy","p":3.63},{"term":"mitochondrial RNA metabolic process","p":3.56},{"term":"Primary bile acid biosynthesis","p":3.5}
]},"mark":"bar","encoding":{"x":{"field":"p","type":"quantitative","scale":{"domain":[0,15],"range":[218.3,372.7],"nice":false},"axis":{"title":"-Log10(P)","titleFont":"Lato","titleFontSize":9.4,"titleFontWeight":"normal","titleColor":"#333","titleY":22,"titleBaseline":"middle","offset":-27,"values":[0,5,10,15],"grid":false,"labelAngle":270,"labelFontSize":7.5,"labelColor":"#333","domainColor":"#111","domainWidth":1,"tickColor":"#111","tickSize":4}},"y":{"field":"term","type":"nominal","sort":null,"title":null,"scale":{"range":[19,208.4],"paddingInner":0.3,"paddingOuter":0.15},"axis":{"offset":-218.3,"labelFont":"Lato","labelFontSize":9.4,"labelColor":"#222","labelLimit":500,"labelOverlap":false,"labelBound":false,"labelPadding":2,"domainColor":"#111","domainWidth":1,"tickColor":"#111","tickSize":3}},"color":{"field":"p","type":"quantitative","scale":{"type":"threshold","domain":[5,10,20],"range":["#9b9b9b","#7d7d7d","#5c5c5c","#333333"]},"legend":null}}}
]}
